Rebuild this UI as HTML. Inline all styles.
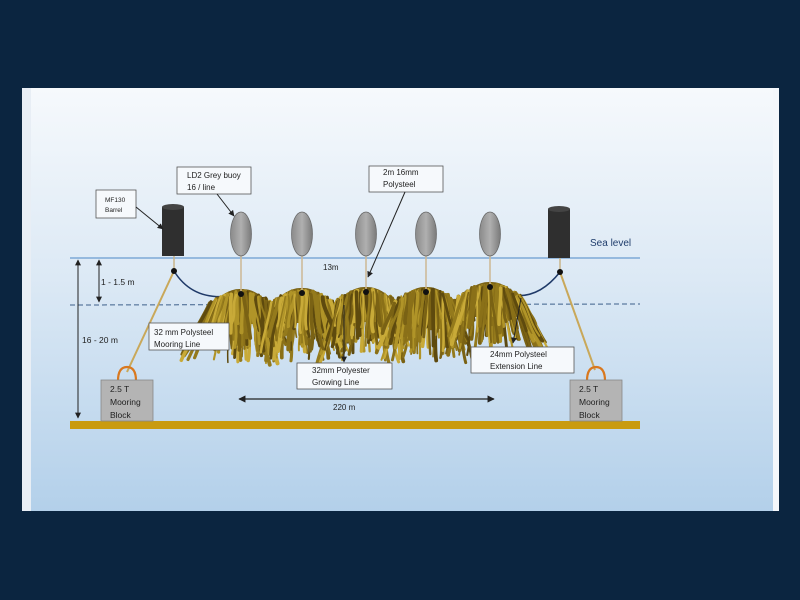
<!DOCTYPE html>
<html><head><meta charset="utf-8"><style>
html,body{margin:0;padding:0;background:#0b2540;width:800px;height:600px;overflow:hidden}
svg{position:absolute;left:0;top:0}
text{font-family:"Liberation Sans",sans-serif;fill:#222}
</style></head><body>
<svg id="s" width="800" height="600" viewBox="0 0 800 600" xmlns="http://www.w3.org/2000/svg">
<defs>
<linearGradient id="bg" x1="0" y1="0" x2="0" y2="1">
<stop offset="0" stop-color="#f6f9fc"/><stop offset="0.45" stop-color="#dce9f5"/><stop offset="1" stop-color="#b3d0ea"/>
</linearGradient>
<linearGradient id="by" x1="0" y1="0" x2="1" y2="0">
<stop offset="0" stop-color="#8a8a8a"/><stop offset="0.5" stop-color="#b0b0b0"/><stop offset="1" stop-color="#7a7a7a"/>
</linearGradient>
<marker id="ar" viewBox="0 0 10 10" refX="9" refY="5" markerWidth="6" markerHeight="6" orient="auto-start-reverse"><path d="M0,0L10,5L0,10z" fill="#222"/></marker>
</defs>
<rect x="22" y="88" width="757" height="423" fill="#f4f7fb"/>
<rect x="31" y="88" width="742" height="423" fill="url(#bg)"/>
<rect x="22" y="88" width="9" height="423" fill="#e8eef5"/>
<line x1="70" y1="258" x2="640" y2="258" stroke="#6a9bd0" stroke-width="1.2"/>
<line x1="70" y1="305" x2="640" y2="304" stroke="#3d5f8a" stroke-width="1" stroke-dasharray="5,3"/>
<text x="590" y="246" font-size="10" style="fill:#1f3d6b">Sea level</text>
<rect x="70" y="421" width="570" height="8" fill="#c99b10"/>
<line x1="174" y1="271" x2="127" y2="372" stroke="#c9a85a" stroke-width="2"/>
<line x1="560" y1="272" x2="595" y2="370" stroke="#c9a85a" stroke-width="2"/>
<path d="M118,381 Q118,367 127,367 Q136,367 136,381" fill="none" stroke="#d9781e" stroke-width="2.2"/>
<rect x="101" y="380" width="52" height="41" fill="#b4b4b4" stroke="#888" stroke-width="0.8"/>
<text x="110" y="392" font-size="8.5">2.5 T</text><text x="110" y="405" font-size="8.5">Mooring</text><text x="110" y="418" font-size="8.5">Block</text>
<path d="M587,381 Q587,367 596,367 Q605,367 605,381" fill="none" stroke="#d9781e" stroke-width="2.2"/>
<rect x="570" y="380" width="52" height="41" fill="#b4b4b4" stroke="#888" stroke-width="0.8"/>
<text x="579" y="392" font-size="8.5">2.5 T</text><text x="579" y="405" font-size="8.5">Mooring</text><text x="579" y="418" font-size="8.5">Block</text>
<rect x="162" y="207" width="22" height="49" fill="#2f2f2f"/><ellipse cx="173" cy="207" rx="11" ry="3" fill="#444"/>
<rect x="548" y="209" width="22" height="49" fill="#2f2f2f"/><ellipse cx="559" cy="209" rx="11" ry="3" fill="#444"/>
<line x1="174" y1="256" x2="174" y2="271" stroke="#c9b48a" stroke-width="1.5"/>
<line x1="560" y1="258" x2="560" y2="272" stroke="#c9b48a" stroke-width="1.5"/>
<path d="M174,271 Q195,305 241,294" fill="none" stroke="#1f3a68" stroke-width="1.5"/>
<path d="M490,287 Q530,310 560,272" fill="none" stroke="#1f3a68" stroke-width="1.5"/>
<g id="weed"></g>
<g id="buoys"></g>
<line x1="78" y1="260" x2="78" y2="418" stroke="#222" stroke-width="1" marker-start="url(#ar)" marker-end="url(#ar)"/>
<text x="82" y="343" font-size="8.5">16 - 20 m</text>
<line x1="99" y1="260" x2="99" y2="302" stroke="#222" stroke-width="1" marker-start="url(#ar)" marker-end="url(#ar)"/>
<text x="101" y="285" font-size="8.5">1 - 1.5 m</text>
<line x1="239" y1="399" x2="494" y2="399" stroke="#222" stroke-width="1.2" marker-start="url(#ar)" marker-end="url(#ar)"/>
<text x="333" y="410" font-size="8">220 m</text>
<text x="323" y="270" font-size="8">13m</text>
<g fill="#f6f9fc" stroke="#555" stroke-width="0.8">
<rect x="96" y="190" width="40" height="28"/>
<rect x="177" y="167" width="74" height="27"/>
<rect x="369" y="166" width="74" height="26"/>
<rect x="149" y="323" width="80" height="27"/>
<rect x="297" y="363" width="95" height="26"/>
<rect x="471" y="347" width="103" height="26"/>
</g>
<text x="105" y="202" font-size="6.5">MF130</text><text x="105" y="212" font-size="6.5">Barrel</text>
<text x="187" y="178" font-size="8">LD2 Grey buoy</text><text x="187" y="190" font-size="8">16 / line</text>
<text x="383" y="175" font-size="8">2m 16mm</text><text x="383" y="187" font-size="8">Polysteel</text>
<text x="154" y="335" font-size="8">32 mm  Polysteel</text><text x="154" y="347" font-size="8">Mooring Line</text>
<text x="312" y="373" font-size="8">32mm Polyester</text><text x="312" y="385" font-size="8">Growing Line</text>
<text x="490" y="357" font-size="8">24mm  Polysteel</text><text x="490" y="369" font-size="8">Extension Line</text>
<g stroke="#222" stroke-width="1">
<line x1="136" y1="207" x2="163" y2="229" marker-end="url(#ar)"/>
<line x1="217" y1="194" x2="234" y2="216" marker-end="url(#ar)"/>
<line x1="405" y1="192" x2="368" y2="277" marker-end="url(#ar)"/>
<line x1="344" y1="305" x2="344" y2="362" marker-end="url(#ar)"/>
<line x1="521" y1="298" x2="513" y2="343" marker-end="url(#ar)"/>
</g>
</svg>
<script>
var NS="http://www.w3.org/2000/svg";
var seed=11;function r(){seed=(seed*16807)%2147483647;return (seed-1)/2147483646;}
var w=document.getElementById("weed");
var cols=["#5e4a0e","#7a6214","#947a1c","#b09428","#c8aa38","#8a7018"];
var dots=[[241,294],[302,293],[366,292],[426,292],[490,287]];
dots.forEach(function(d){
 var p=document.createElementNS(NS,"path");
 p.setAttribute("d","M"+(d[0]-32)+","+(d[1]+14)+" Q"+(d[0]-16)+","+(d[1]-6)+" "+d[0]+","+(d[1]-5)+" Q"+(d[0]+16)+","+(d[1]-6)+" "+(d[0]+32)+","+(d[1]+14)+" L"+(d[0]+30)+","+(d[1]+30)+" L"+(d[0]-30)+","+(d[1]+30)+"z");
 p.setAttribute("fill","#7a6216");w.appendChild(p);
});
for(var pass=0;pass<2;pass++)
for(var k=0;k<dots.length;k++){
 var cx=dots[k][0],cy=dots[k][1];
 var edge=(k==0?-1:(k==4?1:0));
 for(var i=0;i<55;i++){
  var dx=(r()*2-1)*32;
  var x0=cx+dx, y0=cy-3+Math.pow(Math.abs(dx)/32,2)*12+r()*4;
  var f=dx/32;
  var ang=f*0.25+(r()-0.5)*0.3;
  if(edge!=0 && f*edge>0.4) ang=f*0.5;
  var len=(pass==0?38:28)+r()*30;
  var sx=Math.sin(ang),sy=Math.cos(ang);
  var x3=x0+sx*len, y3=y0+sy*len;
  var wig=(r()-0.5)*8;
  var x1=x0+sx*len*0.33+wig, y1=y0+sy*len*0.33;
  var x2=x0+sx*len*0.66-wig, y2=y0+sy*len*0.66;
  var p=document.createElementNS(NS,"path");
  p.setAttribute("d","M"+x0.toFixed(1)+","+y0.toFixed(1)+" C"+x1.toFixed(1)+","+y1.toFixed(1)+" "+x2.toFixed(1)+","+y2.toFixed(1)+" "+x3.toFixed(1)+","+y3.toFixed(1));
  p.setAttribute("stroke",cols[Math.floor(r()*cols.length)]);
  p.setAttribute("stroke-width",(1.5+r()*2.5).toFixed(1));
  p.setAttribute("stroke-linecap","round");p.setAttribute("fill","none");
  w.appendChild(p);
 }
}
var b=document.getElementById("buoys");
var bx=[241,302,366,426,490];
for(var j=0;j<5;j++){
 var l=document.createElementNS(NS,"line");
 l.setAttribute("x1",bx[j]);l.setAttribute("x2",bx[j]);l.setAttribute("y1",255);l.setAttribute("y2",dots[j][1]);
 l.setAttribute("stroke","#cdb894");l.setAttribute("stroke-width","1.5");b.appendChild(l);
 var e=document.createElementNS(NS,"ellipse");
 e.setAttribute("cx",bx[j]);e.setAttribute("cy",234);e.setAttribute("rx",10.5);e.setAttribute("ry",22);
 e.setAttribute("fill","url(#by)");e.setAttribute("stroke","#666");e.setAttribute("stroke-width","0.7");b.appendChild(e);
 var c=document.createElementNS(NS,"circle");
 c.setAttribute("cx",bx[j]);c.setAttribute("cy",dots[j][1]);c.setAttribute("r",3);c.setAttribute("fill","#111");b.appendChild(c);
}
[[174,271],[560,272]].forEach(function(q){var c=document.createElementNS(NS,"circle");c.setAttribute("cx",q[0]);c.setAttribute("cy",q[1]);c.setAttribute("r",3);c.setAttribute("fill","#111");b.appendChild(c);});
</script>
</body></html>
